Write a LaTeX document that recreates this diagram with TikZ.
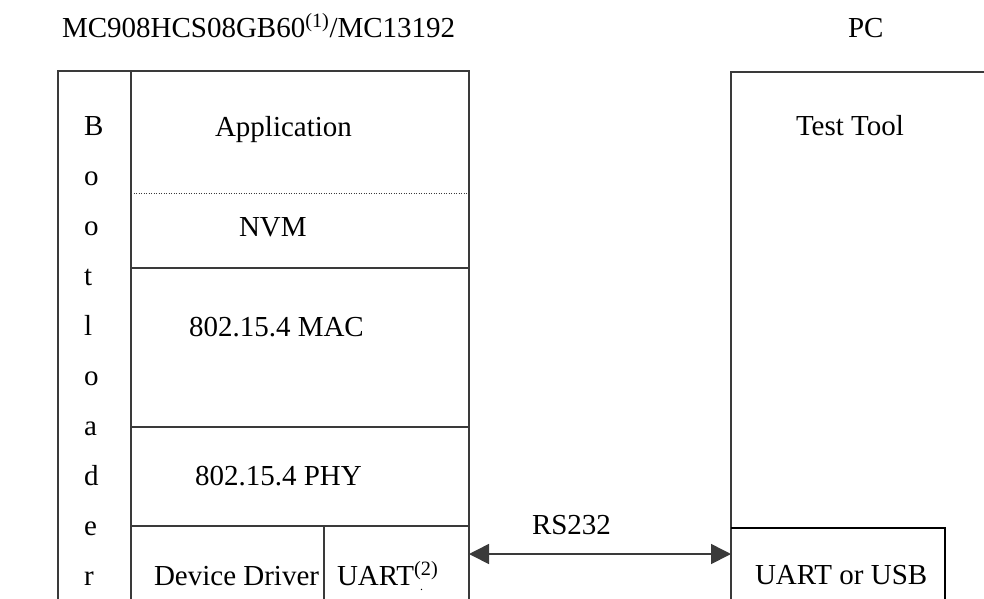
\documentclass[tikz,border=0pt]{standalone}
\usepackage{fontspec}
\setmainfont{Liberation Serif}
\usetikzlibrary{arrows.meta}
\definecolor{linegray}{HTML}{3A3A3A}
\tikzset{
  lbl/.style={anchor=base west, inner sep=0pt, outer sep=0pt, font=\fontsize{29}{34}\selectfont, text=black},
  frame/.style={draw=linegray, line width=1.4pt},
  dotline/.style={draw=linegray, line width=1pt, dash pattern=on 1pt off 1.5pt},
  usbframe/.style={draw=black, line width=1.8pt},
  link/.style={draw=linegray, line width=1.6pt, {Triangle[length=20pt,width=20pt]}-{Triangle[length=20pt,width=20pt]}}
}
\begin{document}
\begin{tikzpicture}[x=1pt,y=-1pt]
\useasboundingbox (0,0) rectangle (984,598);
\clip (0,0) rectangle (984,598);
% left stack
\draw[frame] (58,600) -- (58,71) -- (469,71) -- (469,600);
\draw[frame] (131,71) -- (131,600);
\draw[dotline] (131,193) -- (469,193);
\draw[frame] (131,268) -- (469,268);
\draw[frame] (131,427) -- (469,427);
\draw[frame] (131,526) -- (469,526);
\draw[frame] (324,526) -- (324,600);
% PC box
\draw[frame] (731,600) -- (731,72) -- (986,72);
\draw[usbframe] (731,528) -- (945,528) -- (945,600);
% texts
\node[lbl] (title) at (62,37) {MC908HCS08GB60\textsuperscript{(1)}/MC13192};
\node[lbl] (pc) at (848,37) {PC};
\foreach \ch [count=\i from 0] in {B,o,o,t,l,o,a,d,e,r} {
  \node[lbl] (b\i) at (84,135+50*\i) {\ch};
}
\node[lbl] (app) at (215,136) {Application};
\node[lbl] (nvm) at (239,236) {NVM};
\node[lbl] (mac) at (189,336) {802.15.4 MAC};
\node[lbl] (phy) at (195,485) {802.15.4 PHY};
\node[lbl] (dd) at (154,585) {Device Driver};
\node[lbl] (uart) at (337,585) {UART\textsuperscript{(2)}};
\node[lbl, font=\fontsize{12}{14}\selectfont] (dot) at (420,590) {.};
\node[lbl] (tool) at (796,135) {Test Tool};
\node[lbl] (usb) at (755,584) {UART or USB};
\node[lbl] (rs) at (532,534) {RS232};
% connector
\coordinate (uartedge) at (469,554);
\coordinate (usbedge) at (731,554);
\draw[link] (uartedge) -- (usbedge);
\end{tikzpicture}
\end{document}
